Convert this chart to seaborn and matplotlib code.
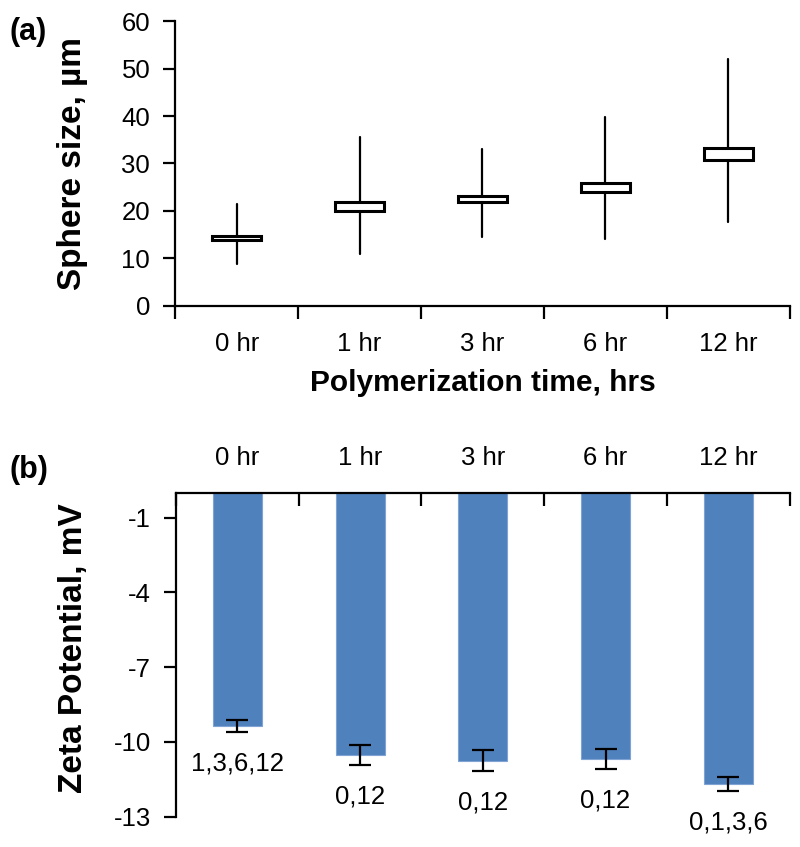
import matplotlib
matplotlib.use("Agg")
import matplotlib.pyplot as plt
import seaborn as sns
import numpy as np
import pandas as pd

# ---- data ----
categories = ["0 hr", "1 hr", "3 hr", "6 hr", "12 hr"]
size_min = [8.9, 11.0, 14.4, 14.1, 17.6]
size_q1 = [13.9, 19.9, 21.9, 24.0, 30.7]
size_q3 = [14.8, 21.9, 23.1, 25.8, 33.3]
size_max = [21.4, 35.6, 33.1, 39.7, 52.0]

zeta_mean = [-9.36, -10.52, -10.75, -10.68, -11.68]
zeta_err = [0.25, 0.40, 0.43, 0.40, 0.29]
sig_labels = ["1,3,6,12", "0,12", "0,12", "0,12", "0,1,3,6"]

size_ticks = [0, 10, 20, 30, 40, 50, 60]
zeta_ticks = [-1, -4, -7, -10, -13]

# ---- style ----
sns.set_style("ticks")
plt.rcParams["font.family"] = ["Liberation Sans", "DejaVu Sans"]
plt.rcParams["axes.unicode_minus"] = False
plt.rcParams["text.color"] = "black"
plt.rcParams["axes.labelcolor"] = "black"
plt.rcParams["xtick.color"] = "black"
plt.rcParams["ytick.color"] = "black"

TICK_FS = 18.5
XLAB_FS = 21.5
YLAB_FS = 24
BAR_COLOR = "#4F81BD"

fig = plt.figure(figsize=(8.0, 8.47), dpi=100)
ax1 = fig.add_axes([0.219, 0.639, 0.768, 0.336])
ax2 = fig.add_axes([0.220, 0.0358, 0.767, 0.3825])

n = len(categories)
pos = np.arange(n)

# ---- panel (a): box plot ----
stats = []
for i in range(n):
    stats.append(dict(med=(size_q1[i] + size_q3[i]) / 2, q1=size_q1[i], q3=size_q3[i],
                      whislo=size_min[i], whishi=size_max[i], fliers=[]))
ax1.bxp(stats, positions=pos, widths=0.4, showfliers=False, patch_artist=True,
        boxprops=dict(facecolor="white", edgecolor="black", linewidth=2.2),
        whiskerprops=dict(color="black", linewidth=1.6),
        capprops=dict(linewidth=0),
        medianprops=dict(linewidth=0),
        zorder=3)
ax1.set_xlim(-0.5, n - 0.5)
ax1.set_ylim(0, 60)
ax1.set_yticks(size_ticks)
ax1.set_xticks(np.arange(n + 1) - 0.5)
ax1.set_xticklabels([])
ax1.set_xticks(pos, minor=True)
ax1.set_xticklabels(categories, minor=True)
ax1.tick_params(axis="x", which="major", length=9, width=1.6, direction="out")
ax1.tick_params(axis="x", which="minor", length=0, pad=19, labelsize=TICK_FS)
ax1.tick_params(axis="y", length=9, width=1.6, labelsize=TICK_FS, pad=9)
for s in ["top", "right"]:
    ax1.spines[s].set_visible(False)
for s in ["left", "bottom"]:
    ax1.spines[s].set_linewidth(1.6)
    ax1.spines[s].set_color("black")
ax1.set_xlabel("Polymerization time, hrs", fontsize=XLAB_FS, fontweight="bold", labelpad=9)
ax1.set_ylabel("Sphere size, µm", fontsize=YLAB_FS, fontweight="bold")
ax1.yaxis.set_label_coords(-0.142, 0.5)

# ---- panel (b): bar chart ----
df = pd.DataFrame({"time": categories, "zeta": zeta_mean})
sns.barplot(data=df, x="time", y="zeta", color=BAR_COLOR, saturation=1, width=0.4,
            edgecolor="#7FA3D3", linewidth=0.8, ax=ax2, errorbar=None, zorder=2)
ax2.errorbar(pos, zeta_mean, yerr=zeta_err, fmt="none", ecolor="black",
             elinewidth=1.6, capsize=8, capthick=1.6, zorder=4)
for i in range(n):
    ax2.annotate(sig_labels[i], xy=(pos[i], zeta_mean[i] - zeta_err[i]),
                 xytext=(0, -22.5), textcoords="offset points",
                 ha="center", va="center", fontsize=TICK_FS, annotation_clip=False)
ax2.set_xlim(-0.5, n - 0.5)
ax2.set_ylim(-13, 0)
ax2.set_yticks(zeta_ticks)
ax2.xaxis.set_ticks_position("top")
ax2.xaxis.set_label_position("top")
ax2.set_xticks(np.arange(n + 1) - 0.5)
ax2.set_xticklabels([])
ax2.set_xticks(pos, minor=True)
ax2.set_xticklabels(categories, minor=True)
ax2.tick_params(axis="x", which="major", length=9, width=1.6, direction="in",
                top=True, bottom=False)
ax2.tick_params(axis="x", which="minor", length=0, pad=16, labelsize=TICK_FS,
                top=True, bottom=False, labeltop=True, labelbottom=False)
ax2.tick_params(axis="y", length=9, width=1.6, labelsize=TICK_FS, pad=9)
for s in ["bottom", "right"]:
    ax2.spines[s].set_visible(False)
for s in ["left", "top"]:
    ax2.spines[s].set_linewidth(1.6)
    ax2.spines[s].set_color("black")
ax2.set_xlabel("")
ax2.set_ylabel("Zeta Potential, mV", fontsize=YLAB_FS, fontweight="bold")
ax2.yaxis.set_label_coords(-0.142, 0.52)

fig.text(0.012, 0.962, "(a)", fontsize=22, fontweight="bold", va="center")
fig.text(0.012, 0.445, "(b)", fontsize=22, fontweight="bold", va="center")

fig.savefig("out.png", dpi=100)
